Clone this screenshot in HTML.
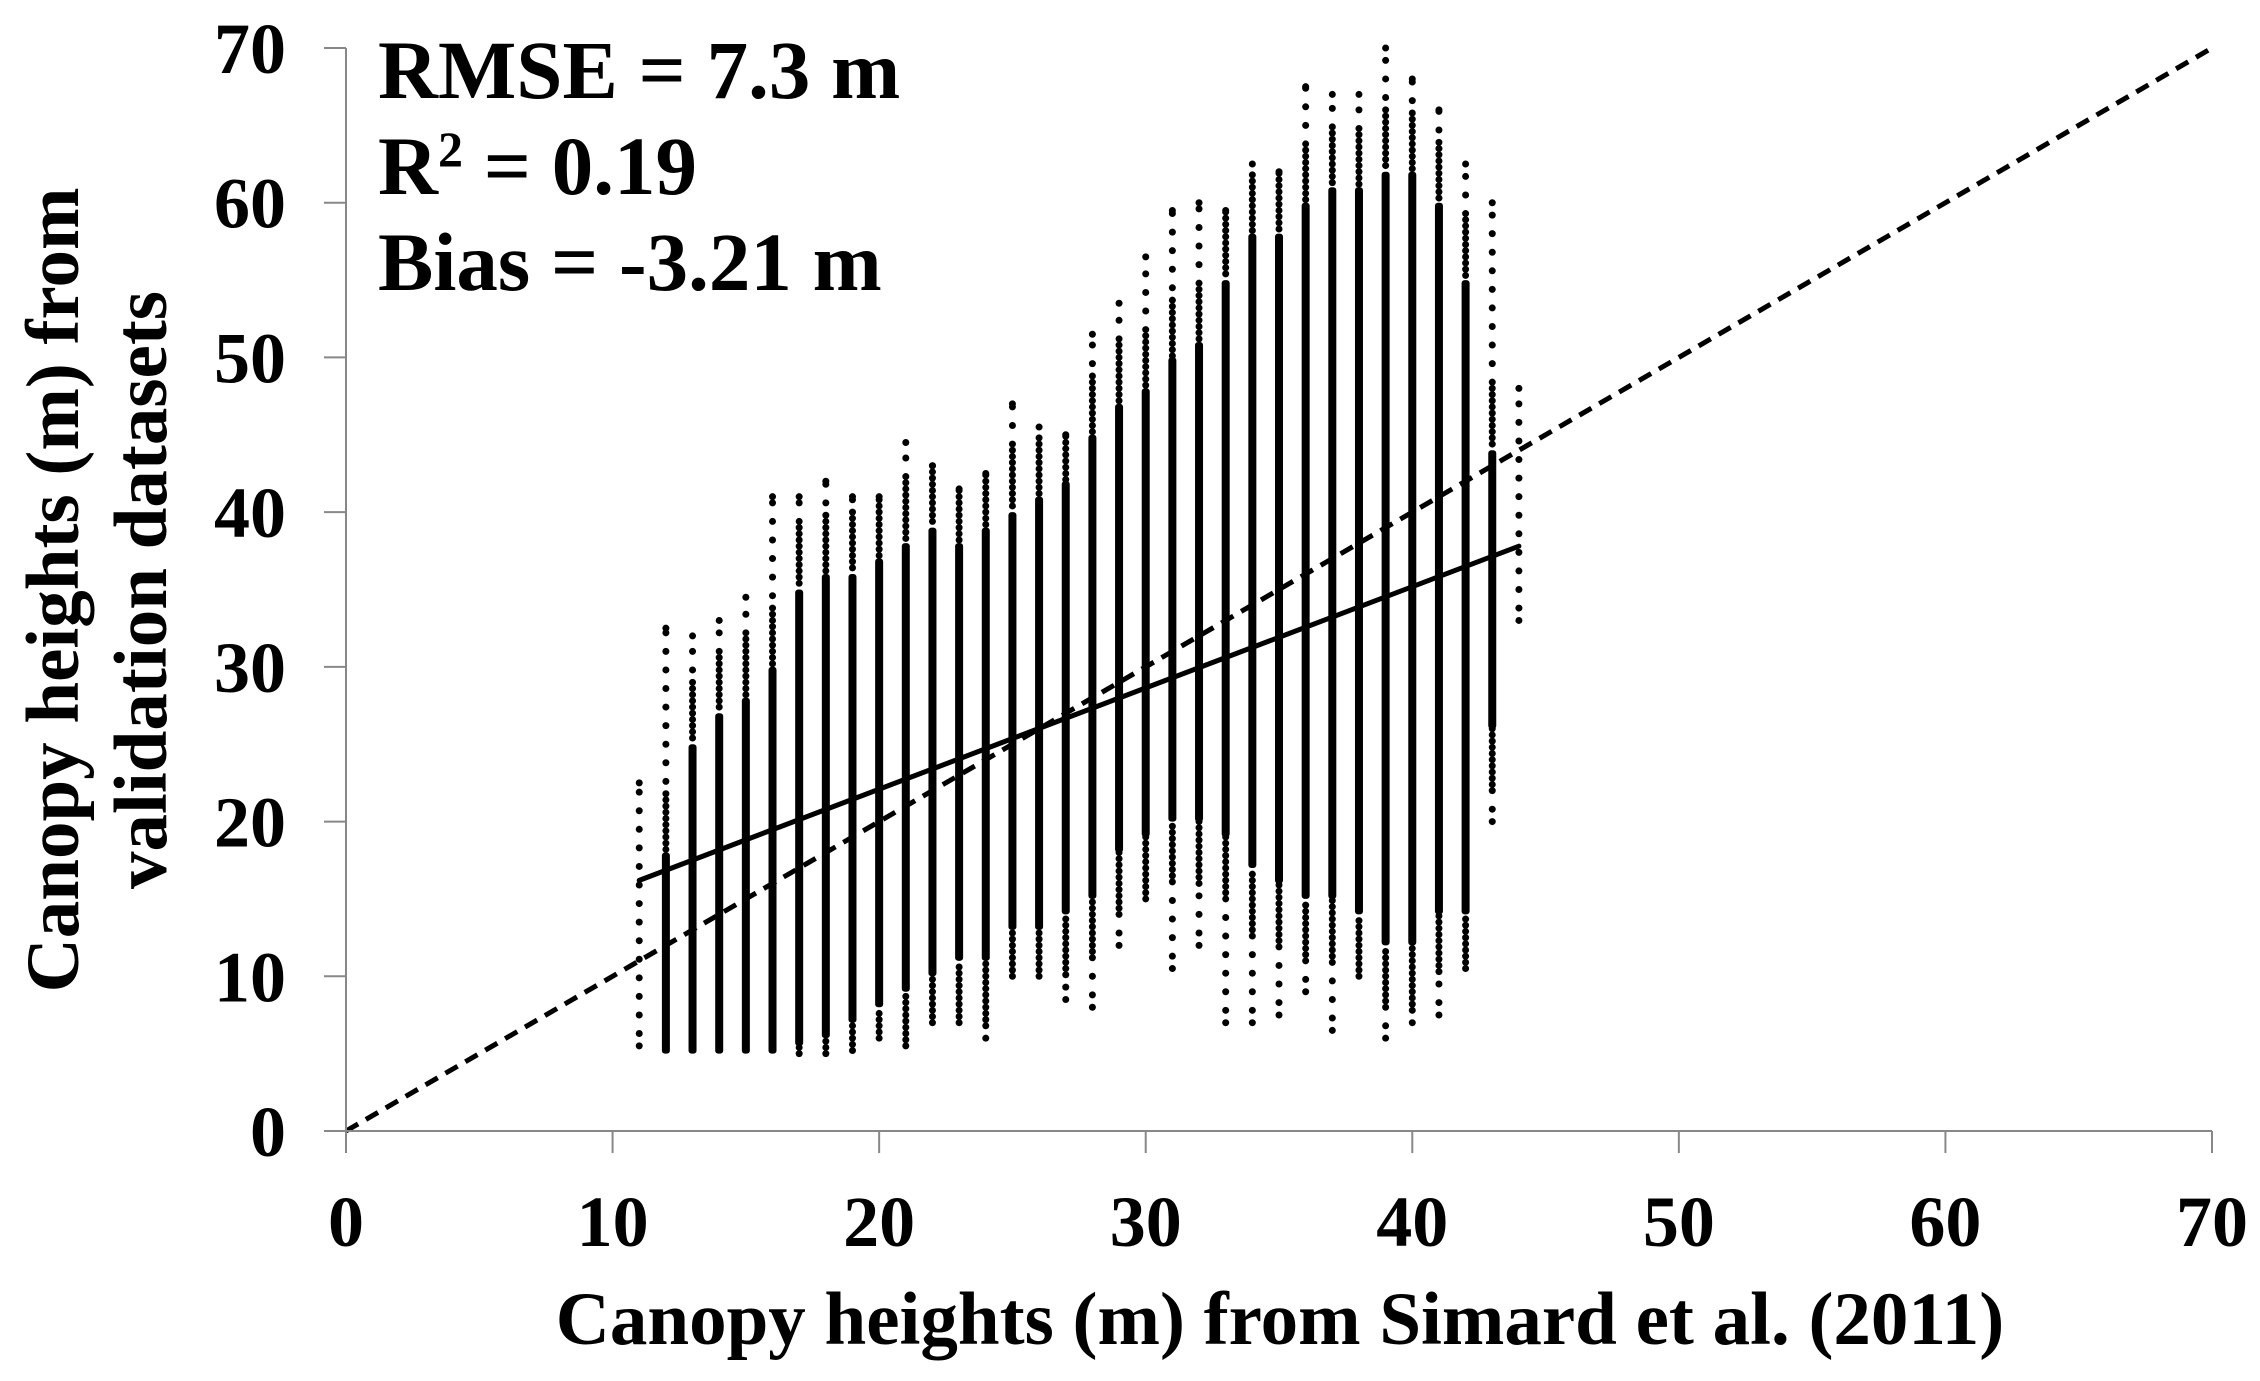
<!DOCTYPE html>
<html><head><meta charset="utf-8"><style>
html,body{margin:0;padding:0;background:#fff;}
svg text{font-family:"Liberation Serif",serif;font-weight:bold;fill:#000;}
</style></head><body>
<svg id="chart" width="2260" height="1376" xmlns="http://www.w3.org/2000/svg">
<g id="plot"></g>
<g id="axes"></g>
<text x="378" y="98" font-size="83">RMSE = 7.3 m</text>
<text x="378" y="194" font-size="83">R<tspan dy="-28" font-size="50">2</tspan><tspan dy="28"> = 0.19</tspan></text>
<text x="378" y="290" font-size="83">Bias = -3.21 m</text>
<text x="1280" y="1344" font-size="75" text-anchor="middle">Canopy heights (m) from Simard et al. (2011)</text>
<text transform="translate(78,590) rotate(-90)" font-size="75" text-anchor="middle">Canopy heights (m) from</text>
<text transform="translate(166,590) rotate(-90)" font-size="75" text-anchor="middle">validation datasets</text>
</svg>
<script>
const colX   = [11,12,13,14,15,16,17,18,19,20,21,22,23,24,25,26,27,28,29,30,31,32,33,34,35,36,37,38,39,40,41,42,43,44];
const colMin = [5.5,5,5,5,5,5,5,5,5.2,6,5.5,7,7,6,10,10,8.5,8,12,15,10.5,12,7,7,7.5,9,6.5,10,6,7,7.5,10.5,20,33];
const colMax = [22.5,32.5,32,33,34.5,41,41,42,41,41,44.5,43,41.5,42.5,47,45.5,45,51.5,53.5,56.5,59.5,60,59.5,62.5,62,67.5,67,67,70,68,66,62.5,60,48];
const coreMin= [99,5,5,5,5,5,5.5,6,7,8,9,10,11,11,13,13,14,15,18,19,20,20,19,17,16,15,15,14,12,12,14,14,26,99];
const coreMax= [0,18,25,27,28,30,35,36,36,37,38,39,38,39,40,41,42,45,47,48,50,51,55,58,58,60,61,61,62,62,60,55,44,0];
const regStart=[11,16.2], regEnd=[44,37.8];
const identity=[[0,0],[70,70]];
const xTicks=[0,10,20,30,40,50,60,70];
const yTicks=[0,10,20,30,40,50,60,70];

const X0=346,X1=2212,Y0=1131,Y1=48;
const sx=v=>X0+(X1-X0)*v/70;
const sy=v=>Y0-(Y0-Y1)*v/70;
const NS="http://www.w3.org/2000/svg";
const plot=document.getElementById('plot');
const axes=document.getElementById('axes');
function mk(tag,attrs,parent){const e=document.createElementNS(NS,tag);for(const k in attrs)e.setAttribute(k,attrs[k]);parent.appendChild(e);return e;}

let ax=mk('line',{x1:X0,y1:Y0,x2:X1,y2:Y0,stroke:'#888','stroke-width':2},axes);


let ay=mk('line',{x1:X0,y1:Y0,x2:X0,y2:Y1,stroke:'#888','stroke-width':2},axes);


xTicks.forEach(t=>{
  const l=mk('line',{x1:sx(t),y1:Y0,x2:sx(t),y2:Y0+22,stroke:'#888','stroke-width':2},axes);
  
  
  const tx=mk('text',{x:sx(t),y:1246,'font-size':72,'text-anchor':'middle'},axes);
  tx.textContent=t;
  
  
});
yTicks.forEach(t=>{
  const l=mk('line',{x1:X0-22,y1:sy(t),x2:X0,y2:sy(t),stroke:'#888','stroke-width':2},axes);
  
  
  const tx=mk('text',{x:286,y:sy(t)+25,'font-size':72,'text-anchor':'end'},axes);
  tx.textContent=t;
  
  
});

colX.forEach((x,i)=>{
  const g=mk('g',{},plot);
  
  
  const cx=sx(x);
  if(coreMax[i]>coreMin[i]){
    const r=mk('rect',{x:cx-4,y:sy(coreMax[i]),width:8,height:sy(coreMin[i])-sy(coreMax[i]),fill:'#000',rx:3},g);
    
    
  }
  let k=0;
  for(let v=colMin[i];v<=colMax[i]+0.01;v+=0.4){
    k++;
    const inCore=v>=coreMin[i]&&v<=coreMax[i];
    if(inCore) continue;
    const dist=Math.min(Math.abs(v-coreMin[i]),Math.abs(v-coreMax[i]));
    if(dist>4 && k%3!==0 && v!==colMin[i]) continue;
    const c=mk('circle',{cx:cx,cy:sy(v),r:3.5,fill:'#000'},g);
    
    
  }
  const c2=mk('circle',{cx:cx,cy:sy(colMax[i]),r:3.5,fill:'#000'},g);
  
  
});

const reg=mk('line',{x1:sx(regStart[0]),y1:sy(regStart[1]),x2:sx(regEnd[0]),y2:sy(regEnd[1]),stroke:'#000','stroke-width':5,'stroke-linecap':'round'},plot);


const id=mk('line',{x1:sx(identity[0][0]),y1:sy(identity[0][1]),x2:sx(identity[1][0]),y2:sy(identity[1][1]),stroke:'#000','stroke-width':5,'stroke-dasharray':'14 9'},plot);


</script>
</body></html>
